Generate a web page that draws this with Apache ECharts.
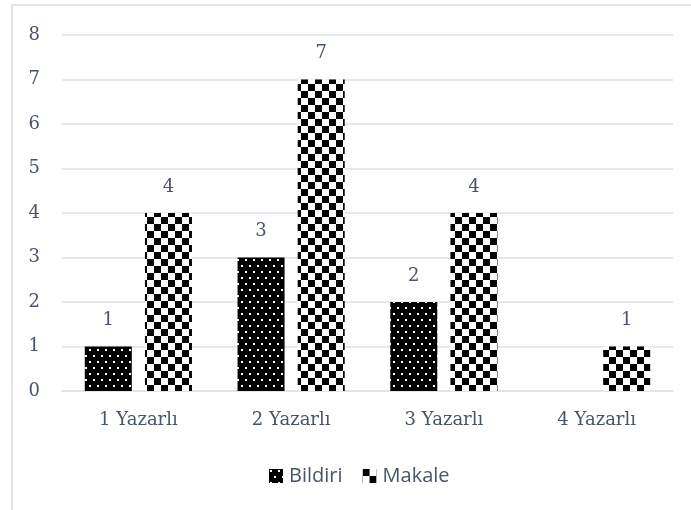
<!DOCTYPE html>
<html>
<head>
<meta charset="utf-8">
<script src="https://cdn.jsdelivr.net/npm/echarts@6/dist/echarts.min.js"></script>
<style>
html,body{margin:0;padding:0;background:#fff;}
#c{width:691px;height:510px;}
</style>
</head>
<body>
<div id="c"></div>
<script>
const categories = ['1 Yazarlı', '2 Yazarlı', '3 Yazarlı', '4 Yazarlı'];
const bildiri = [1, 3, 2, 0];
const makale = [4, 7, 4, 1];
const yTicks = [0, 1, 2, 3, 4, 5, 6, 7, 8];

function dotPattern() {
  const c = document.createElement('canvas');
  c.width = 8; c.height = 12;
  const g = c.getContext('2d');
  g.fillStyle = '#000'; g.fillRect(0, 0, 8, 12);
  g.fillStyle = '#fff';
  g.fillRect(1, 1, 2, 2);
  g.fillRect(5, 7, 2, 2);
  return c;
}
function checkerPattern() {
  const c = document.createElement('canvas');
  c.width = 14; c.height = 14;
  const g = c.getContext('2d');
  g.fillStyle = '#fff'; g.fillRect(0, 0, 14, 14);
  g.fillStyle = '#000';
  g.fillRect(0, 0, 7, 7);
  g.fillRect(7, 7, 7, 7);
  return c;
}

const textColor = '#475569';
const chart = echarts.init(document.getElementById('c'));
const labelCfg = {
  show: true, position: 'top', distance: 17,
  color: textColor, fontFamily: 'DejaVu Serif', fontSize: 18,
  formatter: p => (p.value === 0 ? '' : String(p.value))
};
chart.setOption({
  animation: false,
  backgroundColor: '#fff',
  graphic: [{
    type: 'rect', silent: true,
    shape: { x: 12, y: 5, width: 720, height: 560 },
    style: { fill: 'none', stroke: '#e0e4ea', lineWidth: 2 }
  }],
  grid: { left: 62, right: 18, top: 35, bottom: 119 },
  legend: {
    bottom: 19, left: 264,
    itemWidth: 14, itemHeight: 14, itemGap: 20,
    icon: 'rect',
    textStyle: { color: textColor, fontFamily: 'Open Sans', fontSize: 20, padding: [0, 0, 0, 1] },
    data: ['Bildiri', 'Makale']
  },
  xAxis: {
    type: 'category', data: categories,
    axisLine: { lineStyle: { color: '#dde2e8', width: 1.5 } },
    axisTick: { show: false },
    axisLabel: { color: textColor, fontFamily: 'DejaVu Serif', fontSize: 18, margin: 20 }
  },
  yAxis: {
    type: 'value', min: yTicks[0], max: yTicks[yTicks.length - 1], interval: 1,
    axisLine: { show: false }, axisTick: { show: false },
    splitLine: { lineStyle: { color: '#dde2e8', width: 1.5 } },
    axisLabel: { color: textColor, fontFamily: 'DejaVu Serif', fontSize: 18, margin: 22 }
  },
  series: [
    {
      name: 'Bildiri', type: 'bar', data: bildiri, barWidth: 47, barGap: '28%',
      itemStyle: { color: { image: dotPattern(), repeat: 'repeat' } },
      label: labelCfg
    },
    {
      name: 'Makale', type: 'bar', data: makale, barWidth: 47,
      itemStyle: { color: { image: checkerPattern(), repeat: 'repeat' } },
      label: labelCfg
    }
  ]
});
</script>
</body>
</html>
